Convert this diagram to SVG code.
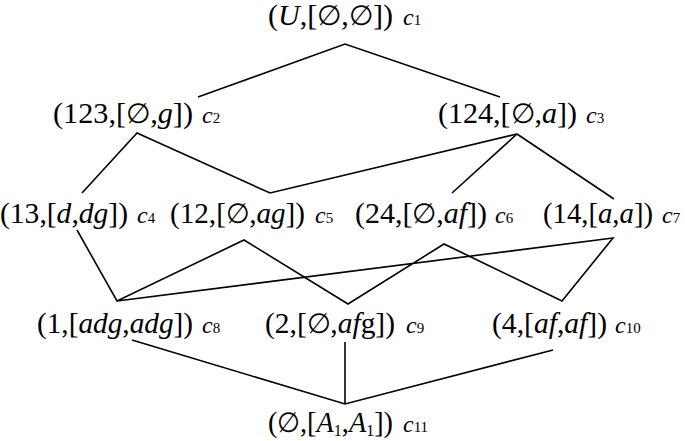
<svg xmlns="http://www.w3.org/2000/svg" width="685" height="441" viewBox="0 0 685 441">
<style>
.t{font-family:"Liberation Serif","DejaVu Serif",serif;font-size:30px;fill:#000}
.i{font-style:italic}
.c{font-family:"Liberation Serif","DejaVu Serif",serif;font-size:24px;font-style:italic;fill:#000}
.n{font-size:15px;font-style:normal}
.s{font-size:17px;font-style:normal}
.e{font-family:"DejaVu Serif","Liberation Serif",serif;font-size:28px}
line,polyline{stroke:#000;stroke-width:1.6;fill:none}
</style>
<g id="connectors">
<polyline points="198,97 345,44 500,97"/>
<polyline points="82,193 137,133 270,193 517,134"/>
<line x1="517" y1="134" x2="452" y2="193"/>
<line x1="517" y1="134" x2="614" y2="199"/>
<polyline points="77,230 117,301 244,240 348,304 444,244 562,301 613,238 117,301"/>
<polyline points="132,340 345,404 553,350"/>
<line x1="345" y1="342" x2="345" y2="404"/>
</g>
<g id="c1"><text class="t" x="268" y="25" textLength="125" lengthAdjust="spacingAndGlyphs">(<tspan class="i">U</tspan>,[<tspan class="e">∅</tspan>,<tspan class="e">∅</tspan>])</text><text class="c" x="403" y="25">c<tspan class="n">1</tspan></text></g>
<g id="c2"><text class="t" x="53" y="123" textLength="140" lengthAdjust="spacingAndGlyphs">(123,[<tspan class="e">∅</tspan>,<tspan class="i">g</tspan>])</text><text class="c" x="202" y="123">c<tspan class="n">2</tspan></text></g>
<g id="c3"><text class="t" x="438" y="123" textLength="139" lengthAdjust="spacingAndGlyphs">(124,[<tspan class="e">∅</tspan>,<tspan class="i">a</tspan>])</text><text class="c" x="586" y="123">c<tspan class="n">3</tspan></text></g>
<g id="c4"><text class="t" x="0" y="223" textLength="128" lengthAdjust="spacingAndGlyphs">(13,[<tspan class="i">d</tspan>,<tspan class="i">dg</tspan>])</text><text class="c" x="137" y="223">c<tspan class="n">4</tspan></text></g>
<g id="c5"><text class="t" x="170" y="223" textLength="135" lengthAdjust="spacingAndGlyphs">(12,[<tspan class="e">∅</tspan>,<tspan class="i">ag</tspan>])</text><text class="c" x="315" y="223">c<tspan class="n">5</tspan></text></g>
<g id="c6"><text class="t" x="355" y="223" textLength="132" lengthAdjust="spacingAndGlyphs">(24,[<tspan class="e">∅</tspan>,<tspan class="i">af</tspan>])</text><text class="c" x="495" y="223">c<tspan class="n">6</tspan></text></g>
<g id="c7"><text class="t" x="543" y="223" textLength="110" lengthAdjust="spacingAndGlyphs">(14,[<tspan class="i">a</tspan>,<tspan class="i">a</tspan>])</text><text class="c" x="662" y="223">c<tspan class="n">7</tspan></text></g>
<g id="c8"><text class="t" x="37" y="333" textLength="156" lengthAdjust="spacingAndGlyphs">(1,[<tspan class="i">adg</tspan>,<tspan class="i">adg</tspan>])</text><text class="c" x="202" y="333">c<tspan class="n">8</tspan></text></g>
<g id="c9"><text class="t" x="265" y="333" textLength="130" lengthAdjust="spacingAndGlyphs">(2,[<tspan class="e">∅</tspan>,<tspan class="i">af</tspan>g])</text><text class="c" x="406" y="333">c<tspan class="n">9</tspan></text></g>
<g id="c10"><text class="t" x="492" y="333" textLength="115" lengthAdjust="spacingAndGlyphs">(4,[<tspan class="i">af</tspan>,<tspan class="i">af</tspan>])</text><text class="c" x="615" y="333">c<tspan class="n">10</tspan></text></g>
<g id="c11"><text class="t" x="268" y="432" textLength="125" lengthAdjust="spacingAndGlyphs">(<tspan class="e">∅</tspan>,[<tspan class="i">A</tspan><tspan class="s" dy="4">1</tspan><tspan dy="-4">,</tspan><tspan class="i">A</tspan><tspan class="s" dy="4">1</tspan><tspan dy="-4">])</tspan></text><text class="c" x="403" y="432">c<tspan class="n">11</tspan></text></g>
</svg>
